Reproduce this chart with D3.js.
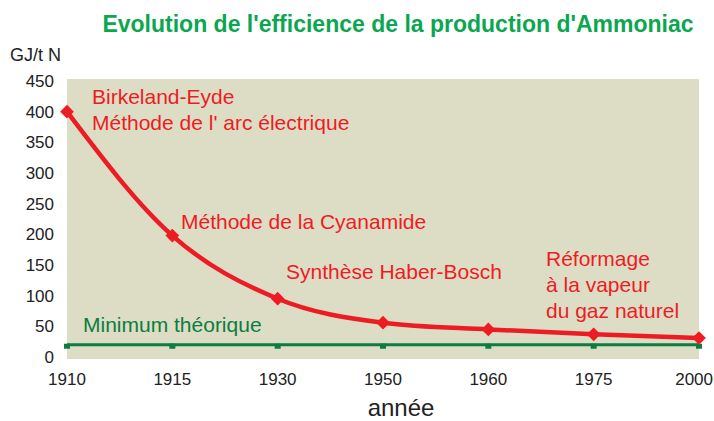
<!DOCTYPE html>
<html>
<head>
<meta charset="utf-8">
<script src="https://cdn.jsdelivr.net/npm/d3@7"></script>
<style>
  body { margin: 0; background: #fff; }
  text { font-family: "Liberation Sans", Arial, sans-serif; }
</style>
</head>
<body>
<svg id="chart" width="714" height="421"></svg>
<script>
var years = ['1910', '1915', '1930', '1950', '1960', '1975', '2000'];
var energy = [400, 198, 95, 56, 45, 37, 31];
var minimum = [20, 20, 20, 20, 20, 20, 20];
var yTicks = [0, 50, 100, 150, 200, 250, 300, 350, 400, 450];

var notes = [
  { lines: ['Birkeland-Eyde', "Méthode de l' arc électrique"], x: 92, y: 104 },
  { lines: ['Méthode de la Cyanamide'], x: 181, y: 229 },
  { lines: ['Synthèse Haber-Bosch'], x: 286, y: 279 },
  { lines: ['Réformage', 'à la vapeur', 'du gaz naturel'], x: 546, y: 266 }
];

var red = '#ed1c24', green = '#0b7d40';
var svg = d3.select('#chart');

var x = d3.scalePoint().domain(years).range([67, 699]);
var y = d3.scaleLinear().domain([0, 450]).range([357, 81]);

// plot background
svg.append('rect')
  .attr('x', 67).attr('y', 79)
  .attr('width', 632).attr('height', 280)
  .attr('fill', '#dddcc5');

// title
svg.append('text')
  .attr('x', 398).attr('y', 32)
  .attr('text-anchor', 'middle')
  .attr('font-size', 23).attr('font-weight', 'bold')
  .attr('fill', '#0aa650')
  .text("Evolution de l'efficience de la production d'Ammoniac");

svg.append('text')
  .attr('x', 10).attr('y', 61)
  .attr('font-size', 18).attr('fill', '#222')
  .text('GJ/t N');

// y axis labels
svg.append('g').selectAll('text')
  .data(yTicks)
  .join('text')
  .attr('x', 54).attr('y', function (d) { return y(d) + 6; })
  .attr('text-anchor', 'end')
  .attr('font-size', 17).attr('fill', '#222')
  .text(function (d) { return d; });

// x axis labels (last one kept inside the frame)
svg.append('g').selectAll('text')
  .data(years)
  .join('text')
  .attr('x', function (d, i) { return i === years.length - 1 ? 713 : x(d); })
  .attr('y', 385)
  .attr('text-anchor', function (d, i) { return i === years.length - 1 ? 'end' : 'middle'; })
  .attr('font-size', 17).attr('fill', '#222')
  .text(function (d) { return d; });

svg.append('text')
  .attr('x', 401).attr('y', 416)
  .attr('text-anchor', 'middle')
  .attr('font-size', 24).attr('fill', '#222')
  .text('année');

// minimum theoretical line
svg.append('path')
  .datum(minimum)
  .attr('fill', 'none').attr('stroke', green).attr('stroke-width', 3)
  .attr('d', d3.line()
    .x(function (d, i) { return x(years[i]); })
    .y(function (d) { return y(d); }));

svg.append('g').selectAll('rect')
  .data(minimum)
  .join('rect')
  .attr('x', function (d, i) { return x(years[i]) - 3; })
  .attr('y', function (d) { return y(d) - 1; })
  .attr('width', 6).attr('height', 5)
  .attr('fill', green);

svg.append('text')
  .attr('x', 83).attr('y', 332)
  .attr('font-size', 21).attr('fill', green)
  .text('Minimum théorique');

// energy curve
svg.append('path')
  .datum(energy)
  .attr('fill', 'none').attr('stroke', red).attr('stroke-width', 4.5)
  .attr('d', d3.line()
    .x(function (d, i) { return x(years[i]); })
    .y(function (d) { return y(d); })
    .curve(d3.curveMonotoneX));

svg.append('g').selectAll('path')
  .data(energy)
  .join('path')
  .attr('transform', function (d, i) {
    return 'translate(' + x(years[i]) + ',' + y(d) + ')';
  })
  .attr('d', d3.symbol().type(d3.symbolDiamond2).size(120))
  .attr('fill', red);

// annotations
notes.forEach(function (n) {
  var t = svg.append('text')
    .attr('font-size', 21).attr('fill', red);
  n.lines.forEach(function (l, i) {
    t.append('tspan').attr('x', n.x).attr('y', n.y + i * 26).text(l);
  });
});
</script>
</body>
</html>
